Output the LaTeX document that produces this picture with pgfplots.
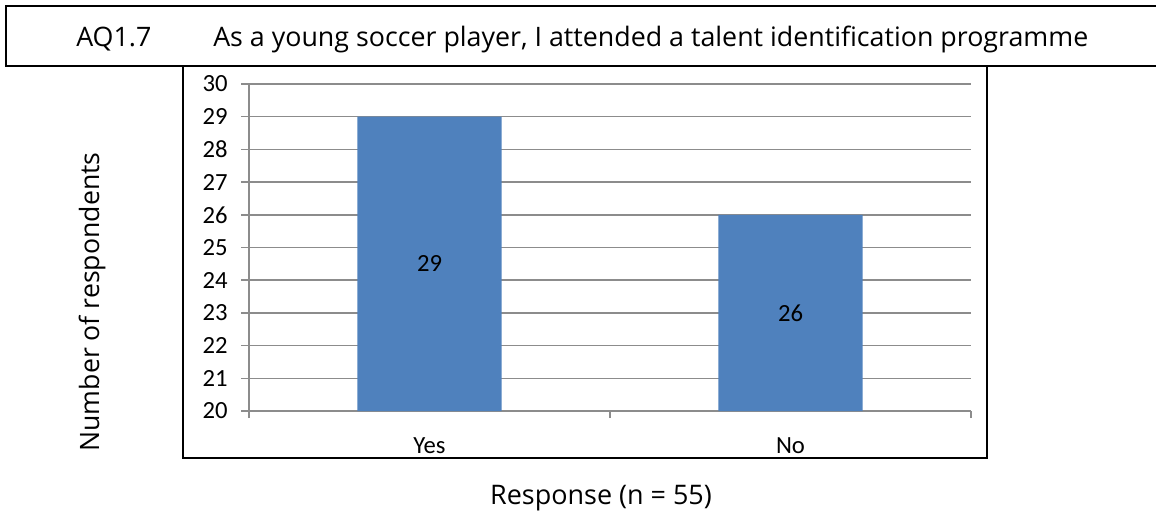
\documentclass[border=0pt]{standalone}
\usepackage{pgfplots}
\pgfplotsset{compat=1.18}
\usepackage{pgfplotstable}
\usepackage{fontspec}
\setmainfont{Carlito}
\newfontfamily\titlefont{Open Sans}
\definecolor{barblue}{HTML}{4F81BD}
\definecolor{gridgray}{HTML}{8C8C8C}

% Survey item AQ1.7: counts of respondents per answer
\pgfplotstableread{
x v
0 29
1 26
}\responses

\begin{document}
\begin{tikzpicture}[x=0.75pt,y=-0.75pt]
\path[use as bounding box] (0,0) rectangle (1156,514);
% question box and chart frame
\draw[line width=1.5pt] (6,6) rectangle (1170,66);
\draw[line width=1.5pt] (183,66) rectangle (987,458);
\node[anchor=base west, font=\titlefont\fontsize{20.1}{24}\selectfont, inner sep=0] at (76,46) {AQ1.7};
\node[anchor=base west, font=\titlefont\fontsize{20.1}{24}\selectfont, inner sep=0] at (213,46) {As a young soccer player, I attended a talent identification programme};
% axis titles
\node[anchor=base, font=\titlefont\fontsize{20.2}{22}\selectfont, inner sep=0] at (601,504) {Response (n = 55)};
\node[anchor=base, rotate=90, font=\titlefont\fontsize{20}{22}\selectfont, inner sep=0] at (99,302) {Number of respondents};
\begin{axis}[
  at={(249*0.75pt,-411*0.75pt)}, anchor=south west,
  width=541.5pt, height=245.25pt, scale only axis,
  xmin=-0.5, xmax=1.5, ymin=20, ymax=30,
  ytick={20,...,30},
  xtick={0,1}, xticklabels={Yes,No},
  minor xtick={-0.5,0.5,1.5},
  axis x line*=bottom, axis y line*=left,
  axis line style={gridgray, line width=1.1pt, -},
  ymajorgrids, major grid style={gridgray, line width=1.1pt},
  tick align=outside,
  tick style={gridgray, line width=1.1pt},
  major tick length=6pt, minor tick length=5.25pt,
  major x tick style={draw=none},
  /pgf/number format/assume math mode=true,
  tick label style={font=\fontsize{18.5}{20}\selectfont, text=black},
  xticklabel style={yshift=-10.5pt},
  yticklabel style={xshift=-6.5pt},
  clip=false,
]
\addplot[ybar, bar width=0.4, fill=barblue, draw=none] table[x=x, y=v] {\responses};
\addplot[draw=none, mark=none, nodes near coords, point meta=explicit,
  nodes near coords style={anchor=center, font=\fontsize{18.5}{20}\selectfont, text=black}]
  table[x=x, y expr={(\thisrow{v}+20)/2}, meta=v] {\responses};
\end{axis}
\end{tikzpicture}
\end{document}
